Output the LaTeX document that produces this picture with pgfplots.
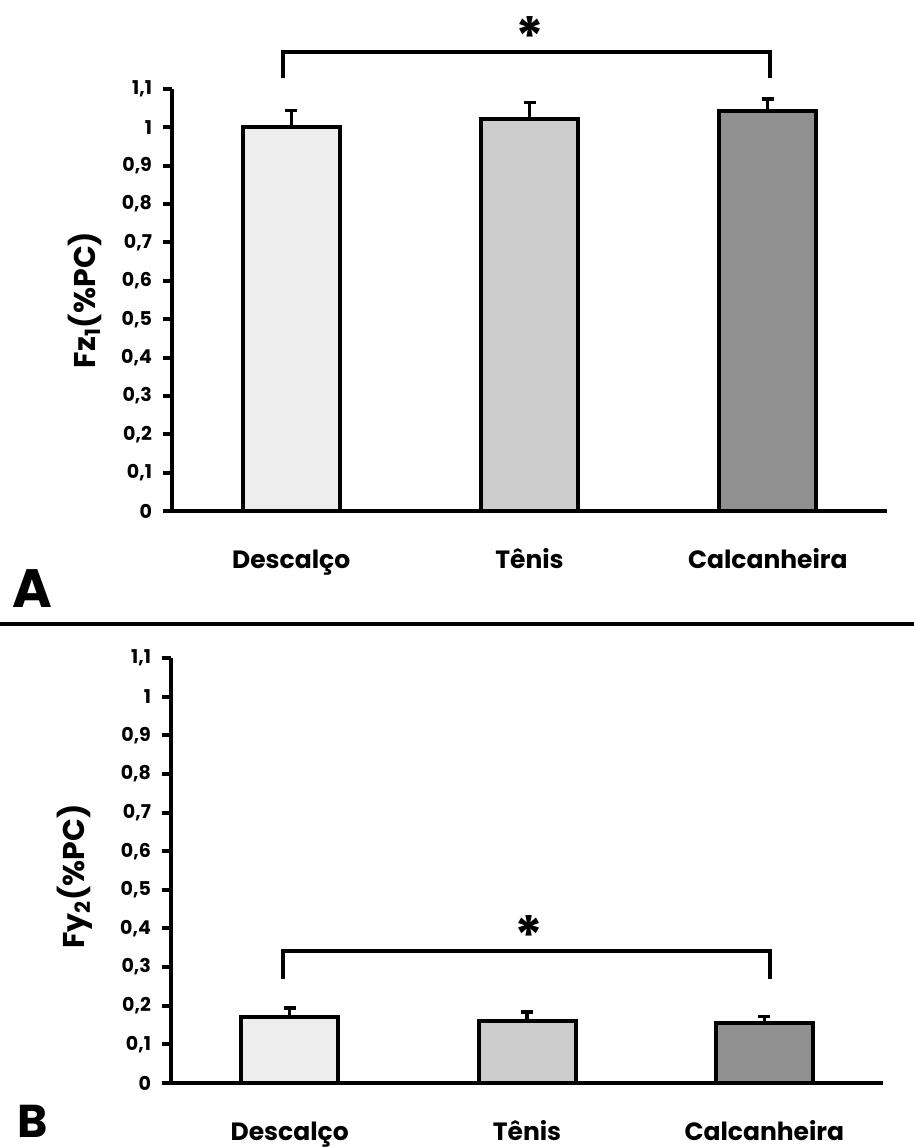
\documentclass[border=0pt]{standalone}
\usepackage{fontspec}
\setmainfont{Poppins}
\usepackage{pgfplots}
\pgfplotsset{compat=1.18}
\definecolor{cA}{HTML}{EDEDED}
\definecolor{cB}{HTML}{CCCCCC}
\definecolor{cC}{HTML}{909090}
\pgfplotsset{
  panel/.style={
    scale only axis, clip=false, enlargelimits=false,
    anchor=south west,
    xmin=0.5, xmax=3.5, ymin=0, ymax=1.1,
    axis x line*=bottom, axis y line*=left,
    axis line style={-, line width=1.8pt},
    xtick={1,2,3},
    xticklabels={Descalço,Tênis,Calcanheira},
    x tick style={draw=none},
    xticklabel style={font=\bfseries\fontsize{12.5}{14}\selectfont, anchor=base, yshift=-24pt},
    ytick={0,0.1,0.2,0.3,0.4,0.5,0.6,0.7,0.8,0.9,1,1.1},
    tick align=outside,
    y tick style={line width=2pt, black},
    major tick length=4.5pt,
    /pgf/number format/use comma,
    /pgf/number format/assume math mode=true,
    yticklabel style={font=\bfseries\fontsize{9.5}{11}\selectfont, xshift=-2pt},
    ylabel style={font=\bfseries\fontsize{15}{17}\selectfont},
  },
  bar/.style={ybar, bar width=48.5pt, bar shift=0pt, draw=black, line width=2pt, fill=#1,
    error bars/.cd, y dir=plus, y explicit,
    error bar style={line width=1.6pt, black},
    error mark options={rotate=90, mark size=3pt, line width=1.6pt, black}},
}
\begin{document}
\begin{tikzpicture}
\path[use as bounding box] (0,0) rectangle (457pt,-573.5pt);
% Panel A
\begin{axis}[panel, at={(86pt,-255.5pt)}, width=357.5pt, height=211pt,
  ylabel={Fz\textsubscript{1}(\%PC)}, ylabel style={xshift=0pt, yshift=3pt}]
\addplot[bar=cA] coordinates {(1,1.001) +- (0,0.044)};
\addplot[bar=cB] coordinates {(2,1.022) +- (0,0.042)};
\addplot[bar=cC] coordinates {(3,1.043) +- (0,0.031)};
\draw[line width=1.6pt] (axis cs:0.966,1.129) -- (axis cs:0.966,1.1965) -- (axis cs:3.009,1.1965) -- (axis cs:3.009,1.129);
\node[anchor=north, inner sep=0pt, font=\bfseries\fontsize{27}{27}\selectfont] at (axis cs:2.002,1.29) {*};
\end{axis}
\draw[line width=1.8pt] (0,-312pt) -- (457pt,-312pt);
\node[font=\bfseries\fontsize{27}{27}\selectfont, anchor=base west, inner sep=0pt] at (6pt,-303.5pt) {A};
% Panel B
\begin{axis}[panel, at={(85.5pt,-541.5pt)}, width=356pt, height=212.5pt,
  ylabel={Fy\textsubscript{2}(\%PC)}, ylabel style={xshift=-3pt, yshift=7pt}]
\addplot[bar=cA] coordinates {(1,0.171) +- (0,0.023)};
\addplot[bar=cB] coordinates {(2,0.160) +- (0,0.024)};
\addplot[bar=cC] coordinates {(3,0.155) +- (0,0.018)};
\draw[line width=1.6pt] (axis cs:0.972,0.269) -- (axis cs:0.972,0.3416) -- (axis cs:3.024,0.3416) -- (axis cs:3.024,0.269);
\node[anchor=north, inner sep=0pt, font=\bfseries\fontsize{27}{27}\selectfont] at (axis cs:2.01,0.435) {*};
\end{axis}
\node[font=\bfseries\fontsize{23}{23}\selectfont, anchor=base west, inner sep=0pt] at (8.5pt,-568.5pt) {B};
\end{tikzpicture}
\end{document}
